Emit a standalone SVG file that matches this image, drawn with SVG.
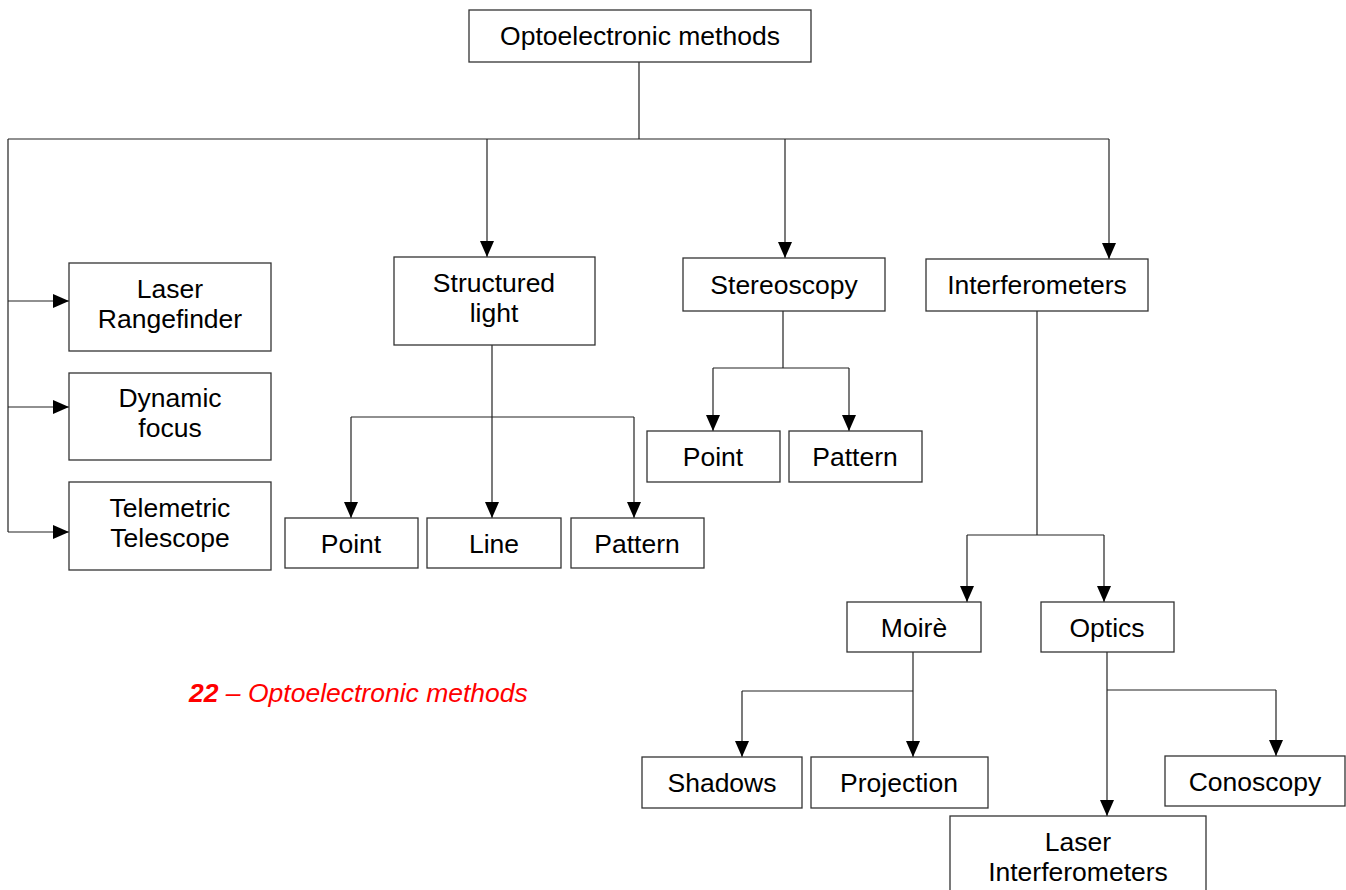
<svg xmlns="http://www.w3.org/2000/svg" width="1346" height="890" viewBox="0 0 1346 890">
<defs>
<style>
.box{fill:#fff;stroke:#333;stroke-width:1.3}
.t{font-family:"Liberation Sans",Arial,sans-serif;font-size:26.5px;fill:#000;text-anchor:middle}
.c{fill:none;stroke:#222;stroke-width:1.2}
.a{marker-end:url(#ah)}
.cap{font-family:"Liberation Sans",Arial,sans-serif;font-size:26.5px;fill:#ff0000;font-style:italic}
</style>
<marker id="ah" markerUnits="userSpaceOnUse" markerWidth="16" markerHeight="14" refX="16" refY="7" orient="auto">
<path d="M0,0 L16,7 L0,14 Z" fill="#000"/>
</marker>
</defs>
<rect width="1346" height="890" fill="#fff"/>
<g id="connectors">
<path class="c" d="M639,62 V139 M8,139 H1109 M8,139 V532"/>
<path class="c a" d="M8,301 H69"/>
<path class="c a" d="M8,407 H69"/>
<path class="c a" d="M8,532 H69"/>
<path class="c a" d="M487,139 V257"/>
<path class="c a" d="M785,139 V258"/>
<path class="c a" d="M1109,139 V259"/>
<path class="c a" d="M492,345 V518"/>
<path class="c" d="M351,417 H634"/>
<path class="c a" d="M351,417 V518"/>
<path class="c a" d="M634,417 V518"/>
<path class="c" d="M783,311 V368 M713,368 H849"/>
<path class="c a" d="M713,368 V431"/>
<path class="c a" d="M849,368 V431"/>
<path class="c" d="M1037,311 V535 M967,535 H1104"/>
<path class="c a" d="M967,535 V602"/>
<path class="c a" d="M1104,535 V602"/>
<path class="c a" d="M913,652 V757"/>
<path class="c" d="M742,691 H913"/>
<path class="c a" d="M742,691 V757"/>
<path class="c a" d="M1107,652 V816"/>
<path class="c" d="M1107,690 H1276"/>
<path class="c a" d="M1276,690 V756"/>
</g>
<g id="n-root"><rect class="box" x="469" y="10" width="342" height="52"/><text class="t" x="640" y="45">Optoelectronic methods</text></g>
<g id="n-laser"><rect class="box" x="69" y="263" width="202" height="88"/><text class="t" x="170" y="298">Laser</text><text class="t" x="170" y="328">Rangefinder</text></g>
<g id="n-dynamic"><rect class="box" x="69" y="373" width="202" height="87"/><text class="t" x="170" y="407">Dynamic</text><text class="t" x="170" y="437">focus</text></g>
<g id="n-telemetric"><rect class="box" x="69" y="482" width="202" height="88"/><text class="t" x="170" y="517">Telemetric</text><text class="t" x="170" y="547">Telescope</text></g>
<g id="n-structured"><rect class="box" x="394" y="257" width="201" height="88"/><text class="t" x="494" y="292">Structured</text><text class="t" x="494" y="322">light</text></g>
<g id="n-stereo"><rect class="box" x="683" y="258" width="202" height="53"/><text class="t" x="784" y="294">Stereoscopy</text></g>
<g id="n-interf"><rect class="box" x="926" y="259" width="222" height="52"/><text class="t" x="1037" y="294">Interferometers</text></g>
<g id="n-sl-point"><rect class="box" x="285" y="518" width="133" height="50"/><text class="t" x="351" y="553">Point</text></g>
<g id="n-sl-line"><rect class="box" x="427" y="518" width="134" height="50"/><text class="t" x="494" y="553">Line</text></g>
<g id="n-sl-pattern"><rect class="box" x="571" y="518" width="133" height="50"/><text class="t" x="637" y="553">Pattern</text></g>
<g id="n-st-point"><rect class="box" x="647" y="431" width="133" height="51"/><text class="t" x="713" y="466">Point</text></g>
<g id="n-st-pattern"><rect class="box" x="789" y="431" width="133" height="51"/><text class="t" x="855" y="466">Pattern</text></g>
<g id="n-moire"><rect class="box" x="847" y="602" width="134" height="50"/><text class="t" x="914" y="637">Moirè</text></g>
<g id="n-optics"><rect class="box" x="1041" y="602" width="133" height="50"/><text class="t" x="1107" y="637">Optics</text></g>
<g id="n-shadows"><rect class="box" x="642" y="757" width="160" height="51"/><text class="t" x="722" y="792">Shadows</text></g>
<g id="n-projection"><rect class="box" x="811" y="757" width="177" height="51"/><text class="t" x="899" y="792">Projection</text></g>
<g id="n-conoscopy"><rect class="box" x="1165" y="756" width="180" height="50"/><text class="t" x="1255" y="791">Conoscopy</text></g>
<g id="n-laserint"><rect class="box" x="950" y="816" width="256" height="80"/><text class="t" x="1078" y="851">Laser</text><text class="t" x="1078" y="881">Interferometers</text></g>
<text class="cap" x="189" y="702"><tspan font-weight="bold">22</tspan> – Optoelectronic methods</text>
</svg>
